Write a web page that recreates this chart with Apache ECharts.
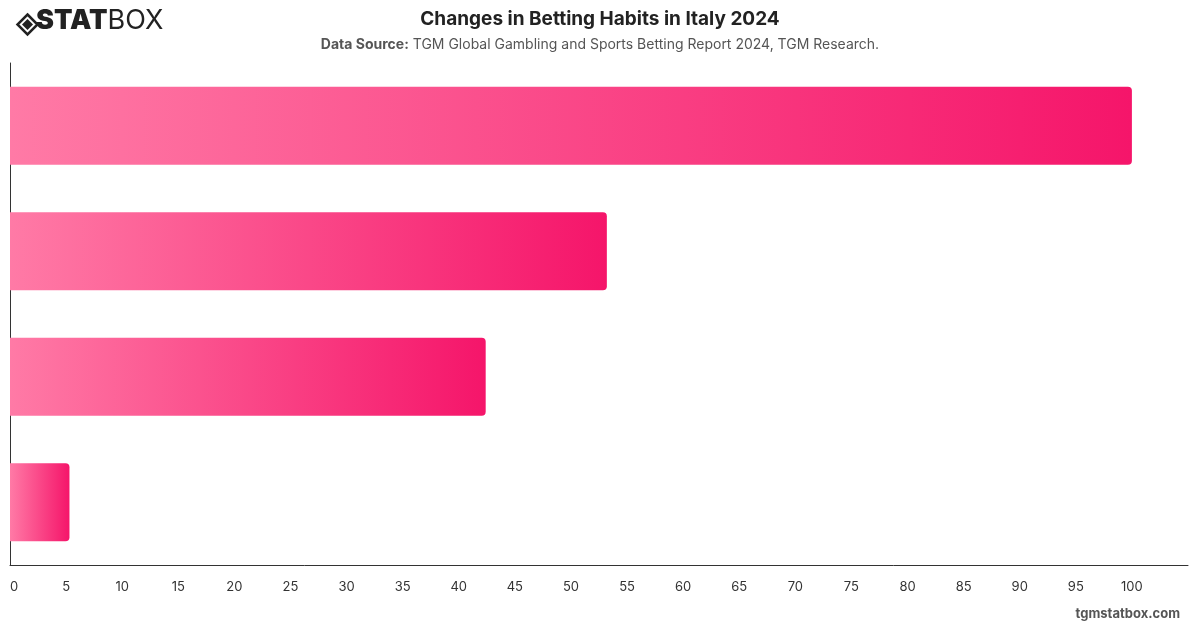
<!DOCTYPE html>
<html>
<head>
<meta charset="utf-8">
<script src="https://cdn.jsdelivr.net/npm/echarts@6/dist/echarts.min.js"></script>
<style>
  html, body { margin: 0; padding: 0; background: #fff; }
  #chart { width: 1200px; height: 628px; }
</style>
</head>
<body>
<div id="chart"></div>
<script>
// categories are not labelled in the picture, top to bottom
const categories = ["Bar 1", "Bar 2", "Bar 3", "Bar 4"];
const values = [100, 53.2, 42.4, 5.3];
const xTicks = { min: 0, max: 105, interval: 5 };

const font = "Inter, 'Noto Sans', sans-serif";

const barColor = new echarts.graphic.LinearGradient(0, 0, 1, 0, [
  { offset: 0, color: "#ff7aa6" },
  { offset: 1, color: "#f5156a" }
]);

const chart = echarts.init(document.getElementById("chart"));

chart.setOption({
  animation: false,
  textStyle: { fontFamily: font },
  title: {
    text: "Changes in Betting Habits in Italy 2024",
    left: "center",
    top: 5,
    textStyle: { fontSize: 19, fontWeight: "bold", color: "#222", fontFamily: font },
    subtext: "{b|Data Source:} TGM Global Gambling and Sports Betting Report 2024, TGM Research.",
    itemGap: 9,
    subtextStyle: {
      fontSize: 14,
      color: "#555",
      fontFamily: font,
      rich: { b: { fontWeight: "bold", fontSize: 14, color: "#555", fontFamily: font } }
    }
  },
  grid: { left: 10, right: 12, top: 63, bottom: 63, containLabel: false },
  xAxis: {
    type: "value",
    min: xTicks.min,
    max: xTicks.max,
    interval: xTicks.interval,
    splitLine: { show: false },
    axisLine: { show: true, lineStyle: { color: "#333", width: 1 } },
    axisTick: { show: false },
    axisLabel: { color: "#333", fontSize: 13, margin: 16, showMaxLabel: false, alignMinLabel: "left" }
  },
  yAxis: {
    type: "category",
    inverse: true,
    data: categories,
    axisLine: { show: true, lineStyle: { color: "#333", width: 1 } },
    axisTick: { show: false },
    axisLabel: { show: false }
  },
  series: [{
    type: "bar",
    data: values,
    barWidth: "62%",
    itemStyle: { color: barColor, borderRadius: [0, 4, 4, 0] }
  }],
  graphic: [
    {
      type: "group",
      left: 15,
      top: 12,
      children: [
        { type: "polygon", shape: { points: [[10, 0], [20, 10], [10, 20], [0, 10]] },
          style: { fill: "none", stroke: "#222", lineWidth: 2.5 } },
        { type: "polygon", shape: { points: [[10, 4.5], [15.5, 10], [10, 15.5], [4.5, 10]] },
          style: { fill: "#222" } }
      ]
    },
    {
      type: "text",
      left: 36,
      top: 7,
      style: {
        text: "{a|STAT}{b|BOX}",
        rich: {
          a: { fontSize: 27, fontWeight: 900, fill: "#222", fontFamily: font },
          b: { fontSize: 27, fontWeight: 400, fill: "#222", fontFamily: font }
        }
      }
    },
    {
      type: "text",
      right: 20,
      top: 608,
      style: { text: "tgmstatbox.com", fontSize: 13, fontWeight: "bold", fill: "#555", fontFamily: font }
    }
  ]
});
</script>
</body>
</html>
